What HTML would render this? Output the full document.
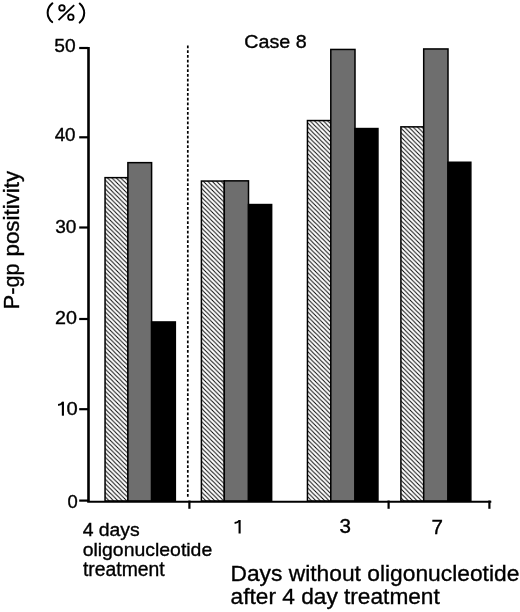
<!DOCTYPE html>
<html>
<head>
<meta charset="utf-8">
<style>
html,body{margin:0;padding:0;background:#fff;}
body{width:520px;height:612px;overflow:hidden;}
svg{display:block;will-change:transform;}
text{font-family:"Liberation Sans", sans-serif;fill:#000;}
</style>
</head>
<body>
<svg width="520" height="612" viewBox="0 0 520 612">
<defs>
<pattern id="hatch" patternUnits="userSpaceOnUse" width="4.4" height="4.4">
<path d="M-2,-2 L6.4,6.4 M-2,2.4000000000000004 L2,6.4 M2.4000000000000004,-2 L6.4,2" stroke="#000" stroke-width="0.95"/>
</pattern>
</defs>
<rect width="520" height="612" fill="#fff"/>

<g fill="none" stroke="#000" stroke-width="2" stroke-linecap="round">
<path d="M52.4,3.3 C46.1,8.5 46.1,16.8 52.2,22.1"/>
<path d="M79.7,3.6 C85.7,8.8 85.7,17.4 79.7,22.6"/>
<circle cx="61.95" cy="7.95" r="2.75" stroke-width="1.8"/>
<circle cx="70.85" cy="17.15" r="2.75" stroke-width="1.8"/>
<path d="M74.2,5.2 L58.5,20.2" stroke-width="1.8" stroke-linecap="butt"/>
</g>
<line x1="187.8" y1="45.6" x2="187.8" y2="301.6" stroke="#000" stroke-width="1.7" stroke-dasharray="2.65 2.1"/>
<line x1="187.8" y1="302.1" x2="187.8" y2="497" stroke="#000" stroke-width="1.7" stroke-dasharray="2.65 2.15"/>
<rect x="105.05" y="177.65" width="22.85" height="323.35" fill="url(#hatch)" stroke="#000" stroke-width="1.5"/>
<rect x="127.90" y="162.65" width="23.70" height="338.35" fill="#6e6e6e" stroke="#000" stroke-width="1.5"/>
<rect x="151.60" y="321.95" width="23.75" height="179.05" fill="#000" stroke="#000" stroke-width="1.5"/>
<rect x="201.40" y="181.05" width="22.90" height="319.95" fill="url(#hatch)" stroke="#000" stroke-width="1.5"/>
<rect x="224.30" y="180.85" width="24.20" height="320.15" fill="#6e6e6e" stroke="#000" stroke-width="1.5"/>
<rect x="248.50" y="204.55" width="23.15" height="296.45" fill="#000" stroke="#000" stroke-width="1.5"/>
<rect x="307.45" y="120.55" width="23.35" height="380.45" fill="url(#hatch)" stroke="#000" stroke-width="1.5"/>
<rect x="330.80" y="49.45" width="24.20" height="451.55" fill="#6e6e6e" stroke="#000" stroke-width="1.5"/>
<rect x="355.00" y="128.55" width="22.95" height="372.45" fill="#000" stroke="#000" stroke-width="1.5"/>
<rect x="400.90" y="126.85" width="22.80" height="374.15" fill="url(#hatch)" stroke="#000" stroke-width="1.5"/>
<rect x="423.70" y="48.95" width="24.30" height="452.05" fill="#6e6e6e" stroke="#000" stroke-width="1.5"/>
<rect x="448.00" y="162.25" width="22.85" height="338.75" fill="#000" stroke="#000" stroke-width="1.5"/>
<g stroke="#000" fill="none">
<path d="M88.5,47 L88.5,501.8" stroke-width="2.6"/>
<path d="M87.2,501.8 L491.3,501.8" stroke-width="2.1"/>
<path d="M79.2,48.0 L88,48.0" stroke-width="2.2"/>
<path d="M79.2,137.3 L88,137.3" stroke-width="2.2"/>
<path d="M79.2,227.5 L88,227.5" stroke-width="2.2"/>
<path d="M79.2,319.0 L88,319.0" stroke-width="2.2"/>
<path d="M79.2,409.2 L88,409.2" stroke-width="2.2"/>
<path d="M79.2,500.6 L88,500.6" stroke-width="2.2"/>
<path d="M189.4,500.5 L189.4,508.8" stroke-width="2.2"/>
<path d="M388.6,500.5 L388.6,508.8" stroke-width="2.2"/>
<path d="M489.4,500.5 L489.4,508.8" stroke-width="2.2"/>
</g>
<rect x="238.55" y="520.00" width="2.1" height="13.50" fill="#000"/>
<path d="M234.60,523.00 Q237.60,522.70 239.60,520.60" fill="none" stroke="#000" stroke-width="1.9"/>
<rect x="61.85" y="401.70" width="2.1" height="14.00" fill="#000"/>
<path d="M58.10,405.00 Q60.90,404.70 62.90,402.30" fill="none" stroke="#000" stroke-width="1.9"/>
<text x="54.312" y="52.412" font-size="19.221" textLength="21.364" lengthAdjust="spacingAndGlyphs" stroke="#000" stroke-width="0.35">50</text>
<text x="54.625" y="141.488" font-size="19.085" textLength="20.961" lengthAdjust="spacingAndGlyphs" stroke="#000" stroke-width="0.35">40</text>
<text x="55.275" y="233.262" font-size="19.221" textLength="21.229" lengthAdjust="spacingAndGlyphs" stroke="#000" stroke-width="0.35">30</text>
<text x="54.987" y="323.775" font-size="18.500" textLength="21.932" lengthAdjust="spacingAndGlyphs" stroke="#000" stroke-width="0.35">20</text>
<text x="66.588" y="415.175" font-size="19.200" textLength="11.200" lengthAdjust="spacingAndGlyphs" stroke="#000" stroke-width="0.35">0</text>
<text x="67.575" y="507.762" font-size="19.221" textLength="10.265" lengthAdjust="spacingAndGlyphs" stroke="#000" stroke-width="0.35">0</text>
<text transform="translate(18.875,309.150) rotate(-90)" font-size="22.958" textLength="45.673" lengthAdjust="spacingAndGlyphs" stroke="#000" stroke-width="0.35">P-gp</text>
<text transform="translate(18.925,256.500) rotate(-90)" font-size="21.974" textLength="85.633" lengthAdjust="spacingAndGlyphs" stroke="#000" stroke-width="0.35">positivity</text>
<text x="244.250" y="48.387" font-size="19.085" textLength="62.324" lengthAdjust="spacingAndGlyphs" stroke="#000" stroke-width="0.35">Case 8</text>
<text x="339.525" y="533.075" font-size="19.588" textLength="11.453" lengthAdjust="spacingAndGlyphs" stroke="#000" stroke-width="0.35">3</text>
<text x="431.487" y="533.550" font-size="20.288" textLength="11.479" lengthAdjust="spacingAndGlyphs" stroke="#000" stroke-width="0.35">7</text>
<text x="82.675" y="535.587" font-size="18.475" textLength="57.054" lengthAdjust="spacingAndGlyphs" stroke="#000" stroke-width="0.35">4 days</text>
<text x="82.650" y="556.337" font-size="18.894" textLength="129.584" lengthAdjust="spacingAndGlyphs" stroke="#000" stroke-width="0.35">oligonucleotide</text>
<text x="82.962" y="575.850" font-size="19.400" textLength="81.725" lengthAdjust="spacingAndGlyphs" stroke="#000" stroke-width="0.35">treatment</text>
<text x="230.487" y="580.900" font-size="22.976" textLength="288.844" lengthAdjust="spacingAndGlyphs" stroke="#000" stroke-width="0.35">Days without oligonucleotide</text>
<text x="230.637" y="604.450" font-size="22.343" textLength="209.151" lengthAdjust="spacingAndGlyphs" stroke="#000" stroke-width="0.35">after 4 day treatment</text>
</svg>
</body>
</html>
